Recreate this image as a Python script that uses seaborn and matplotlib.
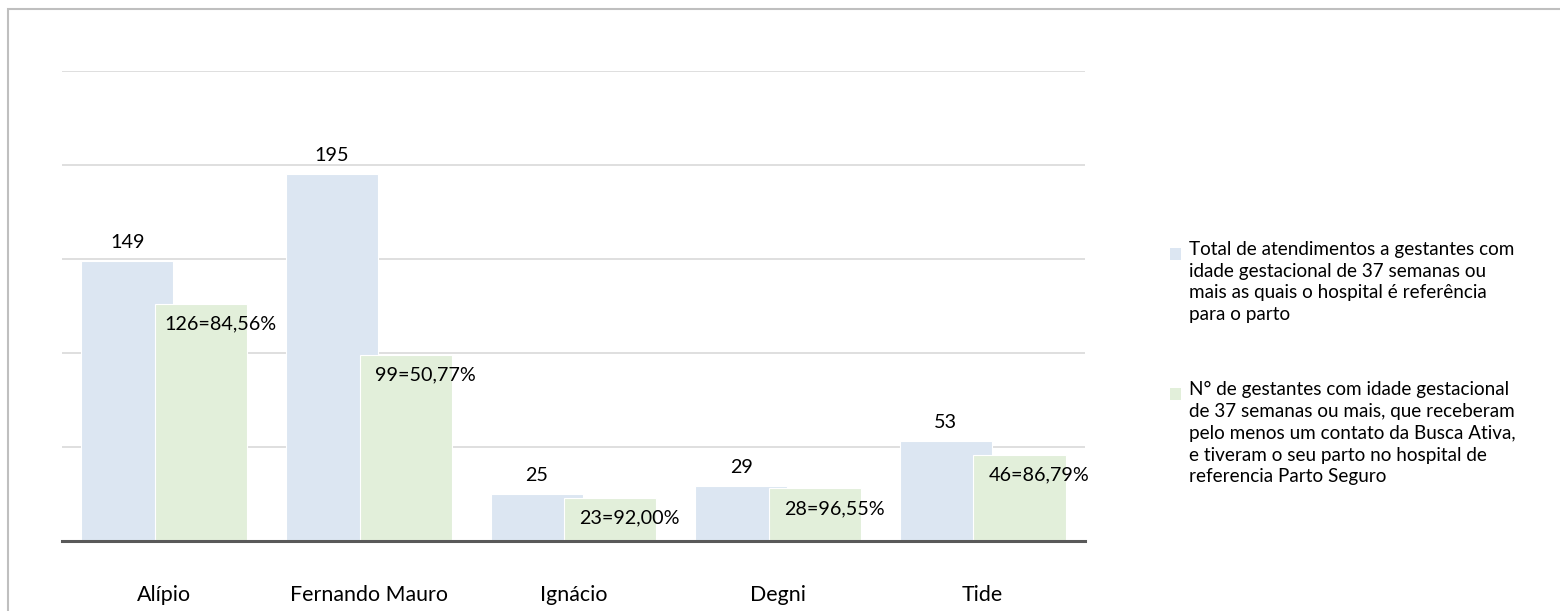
import pandas as pd
import matplotlib
matplotlib.use('Agg')
import matplotlib.pyplot as plt
from matplotlib.patches import Patch, Rectangle
from matplotlib.legend_handler import HandlerPatch
import seaborn as sns

# dados
hospitais = ['Alípio', 'Fernando Mauro', 'Ignácio', 'Degni', 'Tide']
total_atendimentos = [149, 195, 25, 29, 53]
partos_busca_ativa = [126, 99, 23, 28, 46]
series = [
    'Total de atendimentos a gestantes com\nidade gestacional de 37 semanas ou\n'
    'mais as quais o hospital é referência\npara o parto',
    'N° de gestantes com idade gestacional\nde 37 semanas ou mais, que receberam\n'
    'pelo menos um contato da Busca Ativa,\ne tiveram o seu parto no hospital de\n'
    'referencia Parto Seguro',
]
cores = ['#dce6f2', '#e2efda']

df = pd.DataFrame({
    'hospital': hospitais * 2,
    'valor': total_atendimentos + partos_busca_ativa,
    'serie': [series[0]] * len(hospitais) + [series[1]] * len(hospitais),
})

sns.set_theme(style='white')
plt.rcParams['font.family'] = ['Lato', 'DejaVu Sans']
fs_tick = 15.4
fs_rot = 14.2
fs_leg = 13.6

fig = plt.figure(figsize=(15.6, 6.11), dpi=100)
ax = fig.add_axes([0.0397, 0.1146, 0.6558, 0.7692])
sns.barplot(data=df, x='hospital', y='valor', hue='serie', palette=cores,
            width=0.72, saturation=1, errorbar=None, edgecolor='white',
            linewidth=0.8, legend=False, ax=ax)

# barras mais largas, sobrepostas como no Excel
for cont in ax.containers:
    for bar in cont:
        c = bar.get_x() + bar.get_width() / 2
        bar.set_x(c - 0.225)
        bar.set_width(0.45)

for bar, v in zip(ax.containers[0], total_atendimentos):
    ax.annotate(str(v), (bar.get_x() + bar.get_width() / 2, bar.get_height()),
                xytext=(0, 13.5), textcoords='offset points', ha='center',
                va='center', fontsize=fs_rot, color='black')
for bar, g, t in zip(ax.containers[1], partos_busca_ativa, total_atendimentos):
    txt = f'{g}={100 * g / t:.2f}%'.replace('.', ',')
    ax.annotate(txt, (bar.get_x() + bar.get_width() / 2, bar.get_height()),
                xytext=(14, -14.5), textcoords='offset points', ha='center',
                va='center', fontsize=fs_rot, color='black')

ax.set_xlim(-0.5, 4.5)
ax.set_ylim(0, 250)
ax.set_yticks(range(0, 251, 50))
ax.set_yticklabels([])
ax.yaxis.grid(True, color='#d9d9d9', lw=1.2)
ax.set_axisbelow(True)
ax.tick_params(axis='y', length=0)
ax.tick_params(axis='x', length=0, pad=32, labelsize=fs_tick, labelcolor='black')
ax.set_xlabel('')
ax.set_ylabel('')
for s in ['left', 'right', 'top']:
    ax.spines[s].set_visible(False)
ax.spines['bottom'].set_color('#595959')
ax.spines['bottom'].set_linewidth(2.2)

# legenda com o quadrado alinhado na primeira linha
pitch_pt = 15.6


def handle_topo(n_linhas):
    def f(legend, orig_handle, xdescent, ydescent, width, height, fontsize):
        y0 = -ydescent + (n_linhas - 1) / 2 * pitch_pt - 3
        return Rectangle((-xdescent, y0), width, height)
    return HandlerPatch(patch_func=f)


handles = [Patch(facecolor=c, edgecolor='none') for c in cores]
handler_map = {h: handle_topo(s.count('\n') + 1) for h, s in zip(handles, series)}
leg = fig.legend(handles, series, loc='upper left', bbox_to_anchor=(0.75, 0.6056),
                 frameon=False, fontsize=fs_leg, handlelength=0.6, handleheight=0.6,
                 handletextpad=0.4, labelspacing=3.07, borderpad=0, borderaxespad=0,
                 handler_map=handler_map)
for t in leg.get_texts():
    t.set_linespacing(1.34)
    t.set_color('black')

# moldura do grafico
fig.add_artist(Rectangle((8 / 1560, -0.1), 1.0, 1.1 - 8.5 / 611, transform=fig.transFigure,
                         fill=False, edgecolor='#bfbfbf', lw=1.5))

fig.savefig('out.png', dpi=100)
